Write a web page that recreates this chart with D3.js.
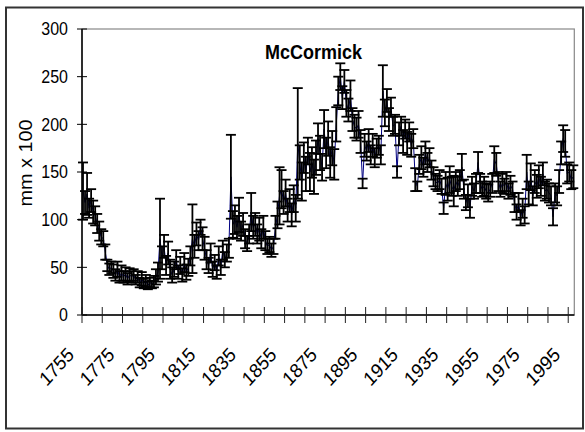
<!DOCTYPE html>
<html>
<head>
<meta charset="utf-8">
<script src="https://cdn.jsdelivr.net/npm/d3@7"></script>
<style>
body { margin: 0; background: #fff; }
text { font-family: Arial, "Liberation Sans", sans-serif; fill: #000; }
</style>
</head>
<body>
<svg id="chart" width="585" height="432"></svg>
<script>
// chronology data, one value per year starting at firstYear (mm x 100)
var firstYear = 1755;
var ringWidth = [
  130,118,127,112,120,108,104,96,88,82,80,66,52,48,50,
  46,42,48,40,44,40,43,38,42,40,
  42,37,40,34,38,33,36,31,34,32,
  35,40,45,80,60,72,52,65,48,42,
  48,58,45,52,42,55,45,50,62,80,
  72,85,78,92,80,70,58,52,65,48,
  55,45,62,50,68,58,65,70,145,95,
  100,92,105,88,95,80,75,85,108,92,
  95,85,90,80,92,78,72,74,68,72,
  92,105,125,132,118,128,110,120,105,122,
  112,180,160,140,165,148,172,150,160,145,
  165,185,170,155,195,170,185,160,175,158,
  200,235,250,228,245,222,215,230,205,198,
  195,200,182,138,178,172,183,168,178,165,
  175,178,168,235,212,225,205,218,198,200,
  150,190,198,182,195,180,192,178,185,142,
  135,158,165,155,170,160,165,152,145,140,
  138,142,135,112,138,132,142,135,130,140,
  135,142,155,132,118,125,112,135,130,138,
  160,138,132,135,130,128,132,138,163,158,
  140,132,138,135,140,130,136,132,118,108,
  118,102,112,105,150,128,145,125,140,135,
  145,135,148,130,132,128,125,103,128,125,
  140,170,185,180,148,150,142,145
];
// error bar half length for each year
var ringError = [
  30,12,22,10,12,12,10,10,10,8,8,8,6,6,6,
  7,6,8,6,8,6,7,6,7,6,
  6,5,6,5,7,5,6,4,5,4,
  6,8,10,42,12,12,10,12,10,8,
  8,10,7,9,7,10,8,9,10,36,
  12,12,10,8,12,12,10,8,10,8,
  8,7,10,8,10,8,9,10,44,14,
  15,12,18,10,12,10,8,10,20,12,
  12,10,12,10,12,10,8,8,7,8,
  12,14,30,20,12,14,12,12,12,14,
  14,58,18,20,16,18,14,20,16,18,
  18,16,18,14,20,16,18,16,18,16,
  18,15,14,12,12,14,12,16,12,12,
  12,14,12,5,12,10,12,10,12,10,
  10,10,10,27,14,12,12,10,10,10,
  6,12,10,12,10,12,10,12,10,12,
  5,10,12,10,12,10,10,10,10,8,
  8,10,8,6,12,12,14,10,16,10,
  10,10,14,10,8,12,10,10,8,10,
  11,10,8,10,8,9,8,10,14,12,
  10,8,10,8,10,8,10,8,10,8,
  10,8,10,9,18,12,14,10,12,12,
  12,10,12,10,10,10,10,9,10,10,
  12,12,14,14,10,10,10,12
];
var yTicks = [0, 50, 100, 150, 200, 250, 300];
var xLabels = ["1755","1775","1795","1815","1835","1855","1875","1895","1915","1935","1955","1975","1995"];
var chartTitle = "McCormick";
var yTitle = "mm x 100";

var years = ringWidth.map(function(d, i){ return firstYear + i; });

var svg = d3.select("#chart");

// outer chart frame
svg.append("rect")
  .attr("x", 6).attr("y", 7.5).attr("width", 577).attr("height", 421)
  .style("fill", "#fff").style("stroke", "#333").style("stroke-width", 2);

// plot area bounds
var plotLeft = 82, plotRight = 574.3, plotTop = 29, plotBottom = 315;

var x = d3.scaleBand().domain(years).range([plotLeft, plotRight]);
var y = d3.scaleLinear().domain([0, 300]).range([plotBottom, plotTop]);

// plot area border (grey)
svg.append("rect")
  .attr("x", plotLeft).attr("y", plotTop)
  .attr("width", plotRight - plotLeft).attr("height", plotBottom - plotTop)
  .style("fill", "none").style("stroke", "#888").style("stroke-width", 1.2);

// the series line
var line = d3.line()
  .x(function(d, i){ return x(years[i]) + x.bandwidth() / 2; })
  .y(function(d){ return y(d); });

svg.append("path")
  .datum(ringWidth)
  .attr("d", line)
  .style("fill", "none").style("stroke", "#000080").style("stroke-width", 1);

// error bars drawn over the line
var bars = svg.append("g").attr("class", "errbars")
  .style("stroke", "#000").style("stroke-width", 1.8);

ringWidth.forEach(function(v, i){
  var cx = x(years[i]) + x.bandwidth() / 2;
  var hi = y(v + ringError[i]), lo = y(v - ringError[i]);
  bars.append("line").attr("x1", cx).attr("x2", cx).attr("y1", hi).attr("y2", lo);
  bars.append("line").attr("x1", cx - 5).attr("x2", cx + 5).attr("y1", hi).attr("y2", hi);
  bars.append("line").attr("x1", cx - 5).attr("x2", cx + 5).attr("y1", lo).attr("y2", lo);
});

// y axis
var yAxis = svg.append("g").attr("class", "yaxis");
yAxis.append("line")
  .attr("x1", plotLeft).attr("x2", plotLeft).attr("y1", plotTop).attr("y2", plotBottom)
  .style("stroke", "#000").style("stroke-width", 1.5);
yAxis.selectAll("line.tick").data(yTicks).enter().append("line")
  .attr("class", "tick")
  .attr("x1", plotLeft - 5).attr("x2", plotLeft + 5)
  .attr("y1", function(d){ return y(d); }).attr("y2", function(d){ return y(d); })
  .style("stroke", "#000").style("stroke-width", 1);
yAxis.selectAll("text").data(yTicks).enter().append("text")
  .attr("transform", function(d){ return "translate(68," + y(d) + ") scale(1,1.1)"; })
  .attr("dy", "0.36em")
  .style("text-anchor", "end").style("font-size", "16px")
  .text(function(d){ return d; });

// x axis, ticks every 10 categories, labels every 20
var xAxis = svg.append("g").attr("class", "xaxis");
xAxis.append("line")
  .attr("x1", plotLeft).attr("x2", plotRight).attr("y1", plotBottom).attr("y2", plotBottom)
  .style("stroke", "#000").style("stroke-width", 1.5);
var tickYears = years.filter(function(d, i){ return i % 10 == 0; });
xAxis.selectAll("line.tick").data(tickYears).enter().append("line")
  .attr("class", "tick")
  .attr("x1", function(d){ return x(d); }).attr("x2", function(d){ return x(d); })
  .attr("y1", plotBottom - 8).attr("y2", plotBottom + 8)
  .style("stroke", "#222").style("stroke-width", 1);
xAxis.selectAll("text").data(xLabels).enter().append("text")
  .attr("transform", function(d){
    var cx = x(+d) + x.bandwidth() / 2;
    return "translate(" + (cx - 8) + ",356) scale(1,1.1) rotate(-45)";
  })
  .style("text-anchor", "end").style("font-size", "18px")
  .text(function(d){ return d; });

// axis title
svg.append("text")
  .attr("transform", "translate(31.5,163) scale(1,1.1) rotate(-90)")
  .style("text-anchor", "middle").style("font-size", "18px")
  .text(yTitle);

// chart title
svg.append("text")
  .attr("transform", "translate(313.5,59.3) scale(1,1.1)")
  .style("text-anchor", "middle").style("font-size", "18px").style("font-weight", "bold")
  .text(chartTitle);
</script>
</body>
</html>
